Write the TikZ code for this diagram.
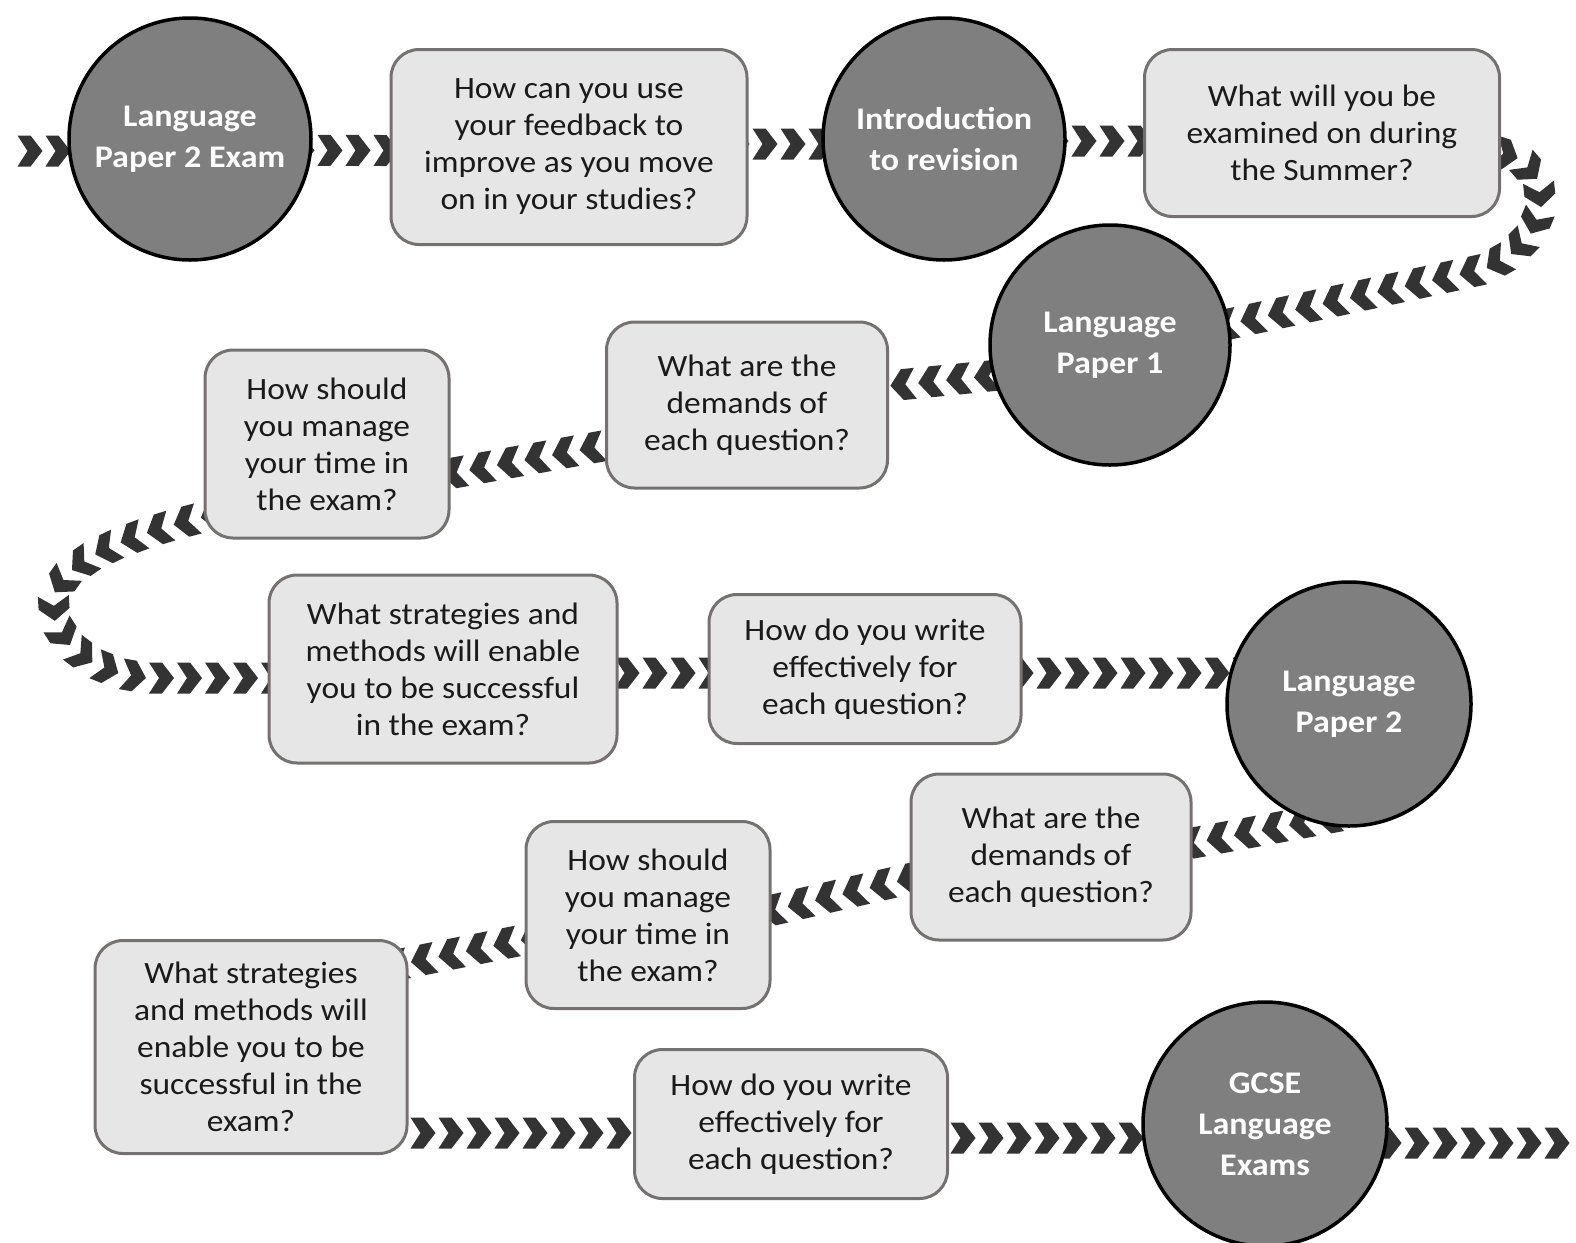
\documentclass[tikz,border=0pt]{standalone}
\usepackage{fontspec}
\setmainfont{Carlito}[FakeStretch=1.08]
\usetikzlibrary{calc,backgrounds,decorations.markings}

\definecolor{stopgray}{HTML}{7F7F7F}
\definecolor{boxfill}{HTML}{E7E6E6}
\definecolor{boxline}{HTML}{767171}
\definecolor{chevcol}{HTML}{333333}
\definecolor{textdark}{HTML}{1A1A1A}

\newcommand{\stationfont}{\bfseries\fontsize{31.5}{41}\selectfont}
\newcommand{\questionfont}{\fontsize{31}{37}\selectfont}

\tikzset{
	station/.style={circle, draw=black, line width=3.5pt, fill=stopgray, text=white, font=\stationfont, align=center, minimum size=242pt, inner sep=0pt},
	question/.style={rectangle, rounded corners=28pt, draw=boxline, line width=3pt, fill=boxfill, text=textdark, font=\questionfont, align=center, inner sep=0pt},
	chevrons/.style={postaction={decorate}, decoration={markings, mark=between positions 0 and 1 step 28pt with {\fill[chevcol] (-12.5,15.5) -- (0.5,15.5) -- (12.5,0) -- (0.5,-15.5) -- (-12.5,-15.5) -- (-2.5,0) -- cycle;}}}
}

\begin{document}
\begin{tikzpicture}[x=1pt, y=-1pt]
	%%%%% START %%%%%
	
	\useasboundingbox (0,0) rectangle (1576,1242);
	
	% first row
	\node[station] (paperTwoExam) at (190,139) {Language\\Paper 2 Exam};
	\node[question, minimum width=356pt, minimum height=195pt] (feedback) at (569,147) {How can you use\\your feedback to\\improve as you move\\on in your studies?};
	\node[station] (intro) at (944,139) {Introduction\\to revision};
	\node[question, minimum width=355pt, minimum height=167pt] (summer) at (1322,133) {What will you be\\examined on during\\the Summer?};
	
	% second row
	\node[station, minimum size=240pt] (paperOne) at (1110,345) {Language\\Paper 1};
	\node[question, minimum width=281pt, minimum height=166pt] (demandsA) at (747,405) {What are the\\demands of\\each question?};
	\node[question, minimum width=244pt, minimum height=188pt] (timeA) at (327,444) {How should\\you manage\\your time in\\the exam?};
	
	% third row
	\node[question, minimum width=348pt, minimum height=188pt] (strategiesA) at (443,669) {What strategies and\\methods will enable\\you to be successful\\in the exam?};
	\node[question, minimum width=312pt, minimum height=149pt] (writeA) at (865,669) {How do you write\\effectively for\\each question?};
	\node[station, minimum size=244pt] (paperTwo) at (1349,704) {Language\\Paper 2};
	
	% fourth row
	\node[question, minimum width=280pt, minimum height=166pt] (demandsB) at (1051,857) {What are the\\demands of\\each question?};
	\node[question, minimum width=244pt, minimum height=187pt] (timeB) at (648,915) {How should\\you manage\\your time in\\the exam?};
	
	% last row
	\node[question, minimum width=312pt, minimum height=213pt] (strategiesB) at (251,1047) {What strategies\\and methods will\\enable you to be\\successful in the\\exam?};
	\node[question, minimum width=313pt, minimum height=149pt] (writeB) at (791,1124) {How do you write\\effectively for\\each question?};
	\node[station, minimum size=244pt] (gcse) at (1265,1124) {GCSE\\Language\\Exams};
	
	\coordinate (start) at (30,151);
	\coordinate (finish) at (1576,1143);
	
	% chevron trail
	\begin{scope}[on background layer]
		\fill[white] (0,0) rectangle (1576,1242);
		\path[chevrons] (start) -- ($(paperTwoExam)+(0,12)$);
		\path[chevrons] ($(paperTwoExam)+(0,11)$) -- ($(feedback)+(0,4)$);
		\path[chevrons] ($(feedback)+(0,-3)$) -- ($(intro)+(0,5)$);
		\path[chevrons] ($(intro)+(0,2)$) -- ($(summer)+(0,8)$);
		\path[chevrons] ($(summer)+(100,17)$) -- (1495,152) .. controls (1555,160) and (1560,240) .. (1480,270) -- ($(paperOne)+(40,-4)$);
		\path[chevrons] ($(paperOne)+(-40,23)$) -- ($(demandsA)+(40,-9)$);
		\path[chevrons] ($(demandsA)+(-100,33)$) -- ($(timeA)+(60,41)$);
		\path[chevrons] ($(timeA)+(-60,56)$) -- (200,518) .. controls (110,540) and (45,570) .. (55,615) .. controls (62,647) and (100,678) .. (160,678) -- ($(strategiesA)+(-100,9)$);
		\path[chevrons] ($(strategiesA)+(100,4)$) -- ($(writeA)+(-100,4)$);
		\path[chevrons] ($(writeA)+(100,4)$) -- ($(paperTwo)+(-40,-31)$);
		\path[chevrons] ($(paperTwo)+(-20,114)$) -- ($(demandsB)+(60,1)$);
		\path[chevrons] ($(demandsB)+(-60,3)$) -- ($(timeB)+(60,10)$);
		\path[chevrons] ($(timeB)+(-60,12)$) -- ($(strategiesB)+(60,-65)$);
		\path[chevrons] ($(strategiesB)+(60,86)$) -- ($(writeB)+(-60,9)$);
		\path[chevrons] ($(writeB)+(60,14)$) -- ($(gcse)+(-40,14)$);
		\path[chevrons] ($(gcse)+(40,19)$) -- (finish);
	\end{scope}
	
	%%%%% END %%%%%
\end{tikzpicture}
\end{document}
